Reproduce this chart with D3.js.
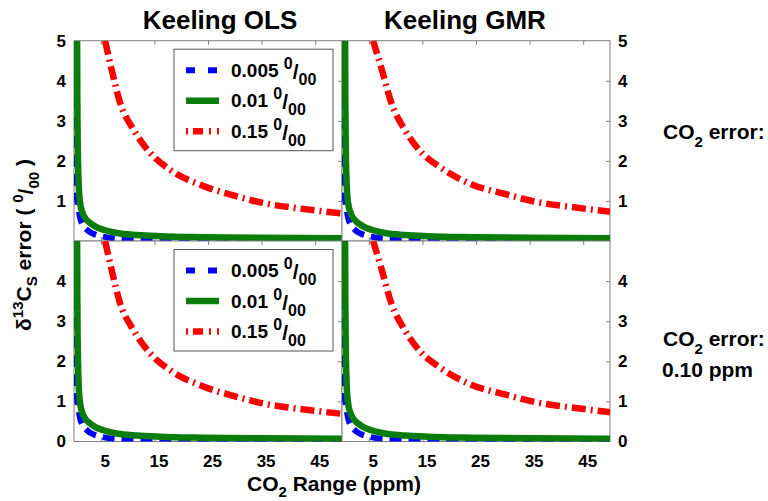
<!DOCTYPE html>
<html>
<head>
<meta charset="utf-8">
<script src="https://cdn.jsdelivr.net/npm/d3@7"></script>
<style>
  body { margin: 0; background: #fff; }
  svg { display: block; }
  text { font-family: "Liberation Sans", Arial, Helvetica, sans-serif; font-weight: bold; fill: #000; }
</style>
</head>
<body>
<svg id="chart" width="768" height="501"></svg>
<script>
// Column titles and axis ticks
const columnTitles = ["Keeling OLS", "Keeling GMR"];
const xTicks = [5, 15, 25, 35, 45];
const yTicks = [1, 2, 3, 4];
const yLabelsTopRow = [1, 2, 3, 4, 5];
const yLabelsBottomRow = [0, 1, 2, 3, 4];
const rowNoteValues = ["", "0.10 ppm"];

// Legend entries: δ13C measurement error (per mil)
const seriesLabels = ["0.005", "0.01", "0.15"];

// δ13Cs error versus CO2 range, 0.005 per mil curve
const blueX = [0.08, 0.12, 0.17, 0.3, 0.5, 0.75, 1.2, 1.75, 2.5, 3.6, 5, 6.1, 8, 10, 15, 20, 30, 40, 50];
const blueY = [5, 3.5, 2.5, 1.55, 1.15, 0.87, 0.55, 0.38, 0.27, 0.18, 0.12, 0.09, 0.06, 0.045, 0.03, 0.022, 0.016, 0.013, 0.01];

// 0.01 per mil curve
const greenX = [0.58, 0.62, 0.68, 0.76, 0.86, 1.0, 1.2, 1.55, 2.1, 3, 4, 5.5, 8, 11.7, 16, 24, 35, 50];
const greenY = [5, 3.6, 2.6, 1.9, 1.45, 1.12, 0.9, 0.72, 0.57, 0.45, 0.36, 0.28, 0.2, 0.15, 0.12, 0.095, 0.08, 0.07];

// 0.15 per mil curve, OLS and GMR fits
const redOlsX = [5.8, 7, 8.6, 11.1, 14.2, 17.9, 24, 29.7, 36, 42.2, 50];
const redOlsY = [5, 4.29, 3.45, 2.78, 2.2, 1.78, 1.38, 1.14, 0.93, 0.81, 0.69];
const redGmrX = [5.8, 7.4, 9.2, 11.7, 14.9, 18, 24.2, 30.2, 36.5, 42.7, 50];
const redGmrY = [5, 4.29, 3.45, 2.78, 2.2, 1.87, 1.41, 1.18, 0.97, 0.85, 0.73];

// Drawing styles
const seriesColors = ["#0000ff", "#0b7d0b", "#ff0000"];
const seriesWidths = [6, 6.5, 6.5];
const seriesDash = ["12,7", null, "14,5,2,5"];
const legendDash = ["9,13", null, "2,5,10,6,2,6,2"];
const frameColor = "#808080";

const svg = d3.select("#chart");
const font = "'Liberation Sans', Arial, Helvetica, sans-serif";

const colX = [[74, 342], [342, 610]];
const rowY = [[40.7, 241], [241, 441.5]];
const titleX = [220, 465];

const zip = (xs, ys) => xs.map((x, i) => ({ x, y: ys[i] }));
const columnSeries = [
  [zip(blueX, blueY), zip(greenX, greenY), zip(redOlsX, redOlsY)],
  [zip(blueX, blueY), zip(greenX, greenY), zip(redGmrX, redGmrY)]
];

// Column titles
columnTitles.forEach((t, c) => {
  svg.append("text")
    .attr("x", titleX[c]).attr("y", 28.5)
    .attr("text-anchor", "middle")
    .style("font-size", "26px")
    .text(t);
});

// Per-mil notation: superscript 0, slash, subscript 00
function perMil(textSel, big, small) {
  textSel.append("tspan").attr("dy", -8).style("font-size", small + "px").text("0");
  textSel.append("tspan").attr("dy", 10).style("font-size", big + "px").text("/");
  textSel.append("tspan").attr("dy", 6).style("font-size", small + "px").text("00");
}

function stylizeAxis(g, size) {
  g.select(".domain").remove();
  g.selectAll(".tick line").attr("stroke", frameColor);
  g.attr("font-family", font).attr("font-size", size);
  g.selectAll("text").style("font-weight", "bold").attr("fill", "#000");
}

rowY.forEach((ry, r) => {
  colX.forEach((cx, c) => {
    const [x0, x1] = cx;
    const [y0, y1] = ry;
    const x = d3.scaleLinear().domain([0, 50]).range([x0, x1]);
    const y = d3.scaleLinear().domain([0, 5]).range([y1, y0]);
    const g = svg.append("g");
    const clipId = `clip-${r}-${c}`;
    svg.append("clipPath").attr("id", clipId)
      .append("rect").attr("x", x0).attr("y", y0).attr("width", x1 - x0).attr("height", y1 - y0);

    // Frame
    g.append("rect")
      .attr("x", x0).attr("y", y0).attr("width", x1 - x0).attr("height", y1 - y0)
      .attr("fill", "#fff").attr("stroke", frameColor).attr("stroke-width", 1);

    // Inward ticks on all four sides
    g.append("g").attr("transform", `translate(0,${y1})`)
      .call(d3.axisTop(x).tickValues(xTicks).tickSize(4).tickFormat(""))
      .call(a => stylizeAxis(a, 10));
    g.append("g").attr("transform", `translate(0,${y0})`)
      .call(d3.axisBottom(x).tickValues(xTicks).tickSize(4).tickFormat(""))
      .call(a => stylizeAxis(a, 10));
    g.append("g").attr("transform", `translate(${x0},0)`)
      .call(d3.axisRight(y).tickValues(yTicks).tickSize(4).tickFormat(""))
      .call(a => stylizeAxis(a, 10));
    g.append("g").attr("transform", `translate(${x1},0)`)
      .call(d3.axisLeft(y).tickValues(yTicks).tickSize(4).tickFormat(""))
      .call(a => stylizeAxis(a, 10));

    // Tick labels
    const yLabels = r === 0 ? yLabelsTopRow : yLabelsBottomRow;
    if (c === 0) {
      g.append("g").attr("transform", `translate(${x0},0)`)
        .call(d3.axisLeft(y).tickValues(yLabels).tickSize(0).tickPadding(8).tickFormat(d3.format("d")))
        .call(a => stylizeAxis(a, 17));
    } else {
      g.append("g").attr("transform", `translate(${x1},0)`)
        .call(d3.axisRight(y).tickValues(yLabels).tickSize(0).tickPadding(8).tickFormat(d3.format("d")))
        .call(a => stylizeAxis(a, 17));
    }
    if (r === 1) {
      g.append("g").attr("transform", `translate(0,${y1})`)
        .call(d3.axisBottom(x).tickValues(xTicks).tickSize(0).tickPadding(13).tickFormat(d3.format("d")))
        .call(a => stylizeAxis(a, 17))
        .selectAll("text").attr("dx", 4);
    }

    // Curves
    const line = d3.line().x(d => x(d.x)).y(d => y(d.y)).curve(d3.curveMonotoneX);
    const cg = g.append("g").attr("clip-path", `url(#${clipId})`);
    columnSeries[c].forEach((pts, i) => {
      cg.append("path")
        .datum(pts)
        .attr("d", line)
        .attr("fill", "none")
        .attr("stroke", seriesColors[i])
        .attr("stroke-width", seriesWidths[i])
        .attr("stroke-dasharray", seriesDash[i])
        .attr("stroke-linejoin", "round");
    });

    // Legend in the left column
    if (c === 0) {
      const lx = x0 + 100, ly = y0 + 8.5;
      const lg = g.append("g").attr("transform", `translate(${lx},${ly})`);
      lg.append("rect").attr("x", 0).attr("y", 0).attr("width", 159).attr("height", 101.5)
        .attr("fill", "#fff").attr("stroke", "#555").attr("stroke-width", 1);
      seriesLabels.forEach((lab, i) => {
        const rowYPos = 21 + i * 30.5;
        lg.append("line")
          .attr("x1", 12).attr("x2", 45).attr("y1", rowYPos).attr("y2", rowYPos)
          .attr("stroke", seriesColors[i])
          .attr("stroke-width", seriesWidths[i])
          .attr("stroke-dasharray", legendDash[i]);
        const t = lg.append("text")
          .attr("x", 57).attr("y", rowYPos + 6.5)
          .style("font-size", "19px");
        t.append("tspan").text(lab + " ");
        perMil(t, 21, 16);
      });
    }
  });

  // Row notes on the right
  const nt = svg.append("text")
    .attr("x", 663).attr("y", r === 0 ? 139 : 346)
    .style("font-size", "21px");
  nt.append("tspan").text("CO");
  nt.append("tspan").attr("dy", 8).style("font-size", "15px").text("2");
  nt.append("tspan").attr("dy", -8).text(" error:");
  if (rowNoteValues[r]) {
    svg.append("text")
      .attr("x", 662).attr("y", 377)
      .style("font-size", "21px")
      .text(rowNoteValues[r]);
  }
});

// X axis title
const xt = svg.append("text")
  .attr("x", 334).attr("y", 491)
  .attr("text-anchor", "middle")
  .style("font-size", "21px");
xt.append("tspan").text("CO");
xt.append("tspan").attr("dy", 6).style("font-size", "15px").text("2");
xt.append("tspan").attr("dy", -6).text(" Range (ppm)");

// Y axis title
const yt = svg.append("text")
  .attr("transform", "translate(31,245) rotate(-90)")
  .attr("text-anchor", "middle")
  .style("font-size", "21px");
yt.append("tspan").text("δ");
yt.append("tspan").attr("dy", -8).style("font-size", "15px").text("13");
yt.append("tspan").attr("dy", 8).text("C");
yt.append("tspan").attr("dy", 6).style("font-size", "15px").text("S");
yt.append("tspan").attr("dy", -6).text(" error ( ");
yt.append("tspan").attr("dy", -8).style("font-size", "15px").text("0");
yt.append("tspan").attr("dy", 10).text("/");
yt.append("tspan").attr("dy", 6).style("font-size", "15px").text("00");
yt.append("tspan").attr("dy", -8).text(" )");
</script>
</body>
</html>
